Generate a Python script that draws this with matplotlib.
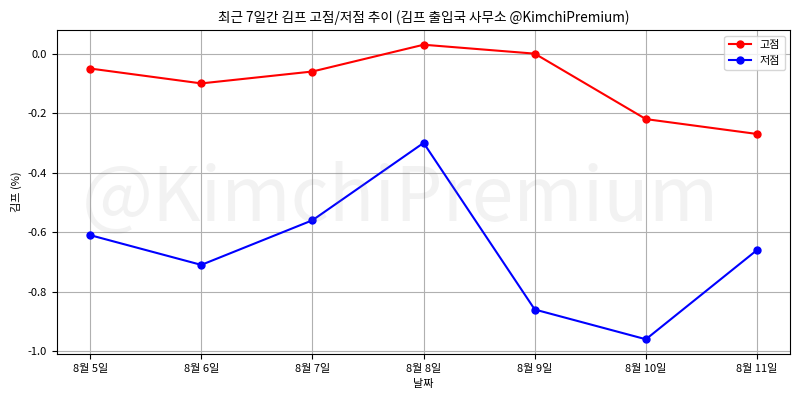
import matplotlib
matplotlib.use('Agg')
import matplotlib.pyplot as plt
import matplotlib.dates as mdates
from datetime import date

plt.rcParams['font.family'] = ['Noto Sans CJK KR', 'DejaVu Sans']
plt.rcParams['axes.unicode_minus'] = False

days = [date(2024, 8, d) for d in range(5, 12)]
high = [-0.05, -0.10, -0.06, 0.03, 0.00, -0.22, -0.27]
low = [-0.61, -0.71, -0.56, -0.30, -0.86, -0.96, -0.66]

fig = plt.figure(figsize=(8, 4), dpi=100)
ax = fig.add_axes([0.071, 0.115, 0.917, 0.81])

# watermark across the middle of the figure
fig.text(0.5, 0.5, '@KimchiPremium', fontsize=54, color='gray', alpha=0.1,
         ha='center', va='center', zorder=0)

ax.plot(days, high, color='red', marker='o', markersize=5, linewidth=1.5, label='고점')
ax.plot(days, low, color='blue', marker='o', markersize=5, linewidth=1.5, label='저점')

ax.xaxis.set_major_locator(mdates.DayLocator())
ax.xaxis.set_major_formatter(mdates.DateFormatter('%-m월 %-d일'))
ax.set_yticks([0.0, -0.2, -0.4, -0.6, -0.8, -1.0])
ax.tick_params(labelsize=8)

ax.grid(True, color='#b0b0b0', linewidth=0.8)
ax.set_title('최근 7일간 김프 고점/저점 추이 (김프 출입국 사무소 @KimchiPremium)', fontsize=9.8)
ax.set_xlabel('날짜', fontsize=8)
ax.set_ylabel('김프 (%)', fontsize=8)
ax.legend(loc='upper right', fontsize=8)

fig.savefig('out.png', dpi=100)
